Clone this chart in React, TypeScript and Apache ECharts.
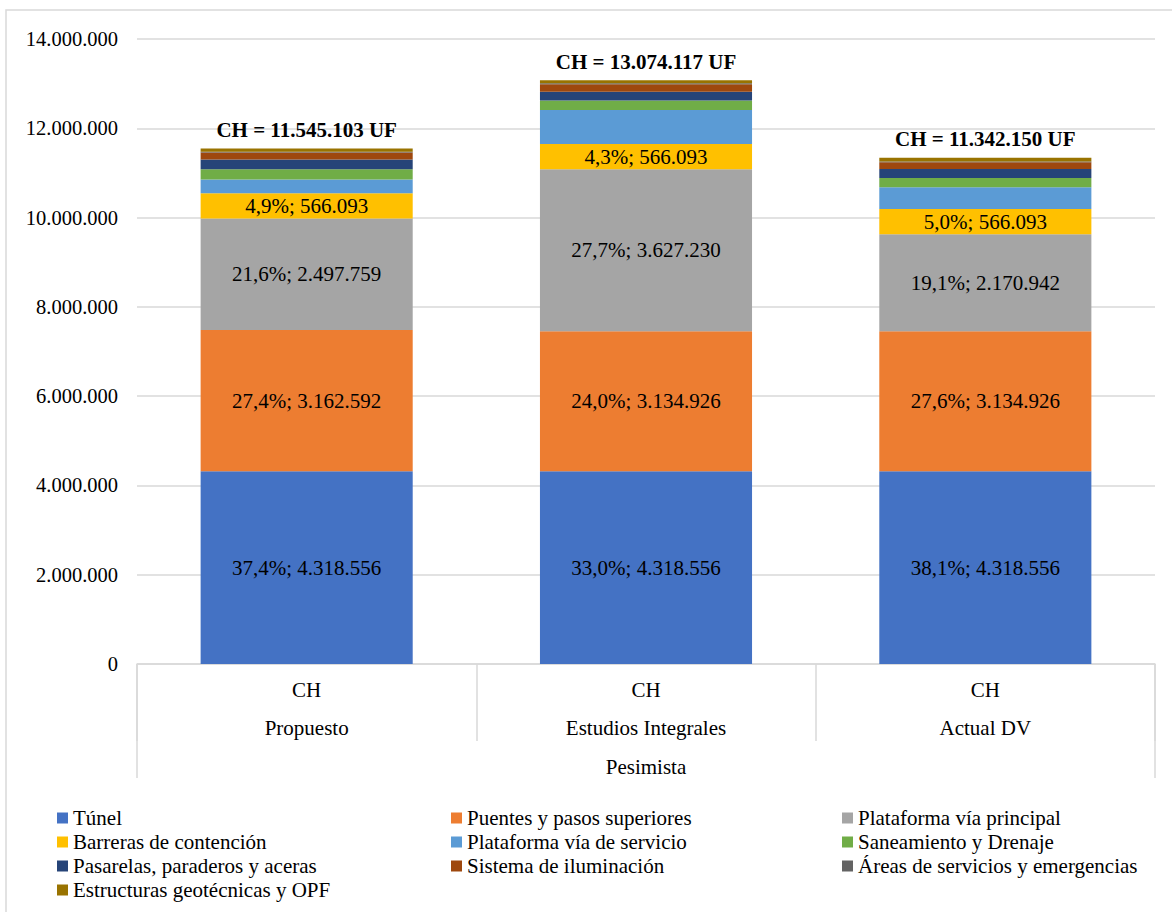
import React, { useEffect, useRef } from "react";
import * as echarts from "echarts";

const categories = ["Propuesto", "Estudios Integrales", "Actual DV"];
const topLevel = ["CH", "CH", "CH"];
const groupLabel = "Pesimista";

const seriesNames = [
  "Túnel",
  "Puentes y pasos superiores",
  "Plataforma vía principal",
  "Barreras de contención",
  "Plataforma vía de servicio",
  "Saneamiento y Drenaje",
  "Pasarelas, paraderos y aceras",
  "Sistema de iluminación",
  "Áreas de servicios y emergencias",
  "Estructuras geotécnicas y OPF",
];

const tunel = [4318556, 4318556, 4318556];
const puentes = [3162592, 3134926, 3134926];
const plataformaPrincipal = [2497759, 3627230, 2170942];
const barreras = [566093, 566093, 566093];
const plataformaServicio = [310000, 765000, 490000];
const saneamiento = [230000, 208000, 208000];
const pasarelas = [215000, 200000, 200000];
const iluminacion = [155000, 165000, 150000];
const areas = [20000, 22000, 20000];
const estructuras = [70000, 67000, 84000];

const pctTunel = ["37,4%", "33,0%", "38,1%"];
const pctPuentes = ["27,4%", "24,0%", "27,6%"];
const pctPlataforma = ["21,6%", "27,7%", "19,1%"];
const pctBarreras = ["4,9%", "4,3%", "5,0%"];

const totals = [11545103, 13074117, 11342150];

const colors = [
  "#4472C4",
  "#ED7D31",
  "#A5A5A5",
  "#FFC000",
  "#5B9BD5",
  "#70AD47",
  "#264478",
  "#9E480E",
  "#636363",
  "#997300",
];

const fmt = (v: number) => String(Math.round(v)).replace(/\B(?=(\d{3})+(?!\d))/g, ".");

const FONT = "'Liberation Serif', 'Times New Roman', serif";
const FS = 21;

export default function App() {
  const ref = useRef<HTMLDivElement>(null);
  useEffect(() => {
    if (!ref.current) return;
    const chart = echarts.init(ref.current, undefined, { renderer: "svg" });
    const allData = [
      tunel,
      puentes,
      plataformaPrincipal,
      barreras,
      plataformaServicio,
      saneamiento,
      pasarelas,
      iluminacion,
      areas,
      estructuras,
    ];
    const pcts = [pctTunel, pctPuentes, pctPlataforma, pctBarreras];
    const series: any[] = allData.map((d, i) => {
      const s: any = {
        name: seriesNames[i],
        type: "bar",
        stack: "total",
        data: d,
        barCategoryGap: "37.5%",
        itemStyle: { color: colors[i] },
        xAxisIndex: 0,
      };
      if (i < 4) {
        s.label = {
          show: true,
          position: "inside",
          fontFamily: FONT,
          fontSize: FS,
          color: "#000",
          formatter: (p: any) => `${pcts[i][p.dataIndex]}; ${fmt(p.value)}`,
        };
      }
      if (i === allData.length - 1) {
        s.label = {
          show: true,
          position: "top",
          distance: 8,
          fontFamily: FONT,
          fontSize: FS,
          fontWeight: "bold",
          color: "#000",
          formatter: (p: any) => `CH = ${fmt(totals[p.dataIndex])} UF`,
        };
      }
      return s;
    });

    const legendCommon = {
      orient: "vertical",
      top: 806,
      padding: 0,
      height: 110,
      itemWidth: 11,
      itemHeight: 11,
      itemGap: 0,
      icon: "rect",
      selectedMode: false,
      textStyle: { fontFamily: FONT, fontSize: FS, color: "#000", lineHeight: 24 },
    };

    chart.setOption({
      animation: false,
      color: colors,
      grid: { left: 137, right: 17, top: 39, bottom: 248, containLabel: false },
      graphic: [
        {
          type: "rect",
          shape: { x: 6, y: 10, width: 1300, height: 1000 },
          style: { fill: "none", stroke: "#d9d9d9", lineWidth: 1.5 },
          silent: true,
        },
      ],
      legend: [
        {
          ...legendCommon,
          left: 57,
          data: [seriesNames[0], seriesNames[3], seriesNames[6], seriesNames[9]],
        },
        {
          ...legendCommon,
          left: 451,
          data: [seriesNames[1], seriesNames[4], seriesNames[7]],
        },
        {
          ...legendCommon,
          left: 842,
          data: [seriesNames[2], seriesNames[5], seriesNames[8]],
        },
      ],
      xAxis: [
        {
          type: "category",
          data: topLevel,
          position: "bottom",
          axisLine: { show: true, lineStyle: { color: "#d9d9d9", width: 1.5 } },
          axisTick: { show: true, interval: 0, length: 77, lineStyle: { color: "#d9d9d9", width: 1.5 } },
          axisLabel: { fontFamily: FONT, fontSize: FS, color: "#000", margin: 15, interval: 0 },
        },
        {
          type: "category",
          data: categories,
          position: "bottom",
          axisLine: { show: false },
          axisTick: { show: false },
          axisLabel: { fontFamily: FONT, fontSize: FS, color: "#000", margin: 53, interval: 0 },
        },
        {
          type: "category",
          data: [groupLabel],
          position: "bottom",
          axisLine: { show: false },
          axisTick: { show: true, interval: 0, length: 114, lineStyle: { color: "#d9d9d9", width: 1.5 } },
          axisLabel: { fontFamily: FONT, fontSize: FS, color: "#000", margin: 92, interval: 0 },
        },
      ],
      yAxis: {
        type: "value",
        min: 0,
        max: 14000000,
        interval: 2000000,
        axisLine: { show: false },
        axisTick: { show: false },
        splitLine: { lineStyle: { color: "#d9d9d9", width: 1.5 } },
        axisLabel: {
          fontFamily: FONT,
          fontSize: 20.5,
          color: "#000",
          margin: 19,
          formatter: (v: number) => fmt(v),
        },
      },
      series,
    });
    return () => chart.dispose();
  }, []);
  return (
    <div
      ref={ref}
      style={{ position: "absolute", left: 0, top: 0, width: 1172, height: 912, background: "#fff" }}
    />
  );
}
